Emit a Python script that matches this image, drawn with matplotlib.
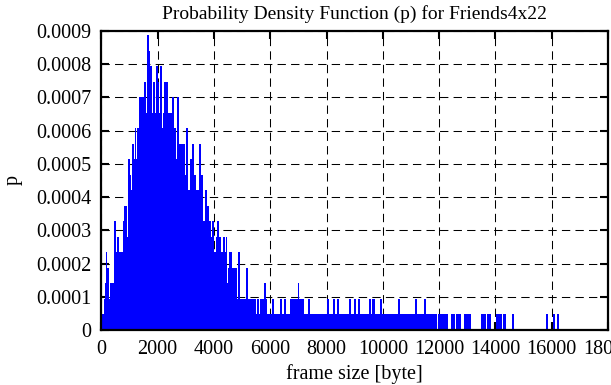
import numpy as np
import matplotlib
matplotlib.use('Agg')
import matplotlib.pyplot as plt

# Histogram of frame sizes.
# Each bin is ~35.5 bytes wide; counts are in units of the smallest p step.
bin_width = 35.52
p_unit = 0.0000467

counts = [
    1, 1, 1, 2, 3, 5, 4, 4, 2, 3, 3, 3, 3, 7, 7, 5, 6, 6, 5, 5,
    5, 5, 7, 8, 8, 8, 6, 11, 11, 10, 9, 12, 12, 11, 13, 11, 13, 13, 15, 15,
    15, 15, 15, 16, 16, 14, 19, 19, 18, 17, 17, 14, 16, 16, 14, 17, 17, 16, 14, 17,
    17, 13, 14, 16, 16, 16, 16, 14, 14, 14, 14, 15, 15, 13, 13, 11, 15, 15, 12, 12,
    12, 12, 12, 12, 10, 13, 13, 9, 9, 11, 11, 12, 12, 10, 10, 9, 9, 9, 12, 12,
    10, 10, 7, 7, 9, 9, 8, 8, 7, 7, 6, 7, 7, 5, 5, 6, 7, 7, 6, 6,
    5, 5, 6, 6, 5, 6, 3, 4, 5, 5, 5, 4, 4, 4, 4, 4, 2, 5, 5, 2,
    2, 2, 2, 2, 2, 4, 4, 2, 2, 2, 2, 2, 2, 2, 2, 1, 2, 2, 1, 2,
    2, 2, 2, 3, 3, 2, 1, 1, 1, 1, 1, 2, 2, 1, 1, 1, 1, 1, 1, 2,
    2, 1, 1, 2, 2, 1, 1, 1, 1, 2, 2, 2, 2, 2, 2, 2, 2, 3, 2, 2,
    2, 2, 2, 1, 1, 1, 1, 2, 2, 1, 1, 1, 1, 1, 1, 1, 1, 1, 1, 1,
    1, 1, 1, 1, 1, 1, 2, 2, 1, 1, 1, 1, 2, 2, 1, 1, 2, 2, 1, 1,
    1, 1, 1, 1, 1, 1, 1, 1, 2, 2, 1, 1, 1, 2, 2, 1, 1, 2, 2, 1,
    1, 1, 1, 1, 1, 1, 1, 1, 2, 2, 1, 2, 2, 2, 1, 1, 1, 1, 1, 2,
    2, 1, 1, 1, 1, 1, 1, 1, 1, 1, 1, 1, 1, 1, 1, 1, 1, 2, 2, 1,
    1, 1, 1, 1, 1, 1, 1, 1, 1, 1, 1, 1, 1, 1, 2, 2, 1, 1, 1, 1,
    1, 1, 1, 2, 2, 1, 1, 1, 1, 1, 1, 1, 1, 1, 1, 1, 0, 1, 1, 1,
    1, 1, 1, 1, 1, 1, 1, 0, 0, 0, 1, 1, 1, 1, 0, 1, 1, 1, 1, 1,
    0, 0, 0, 1, 1, 1, 1, 1, 1, 1, 0, 0, 0, 0, 0, 0, 0, 0, 0, 0,
    1, 1, 1, 1, 1, 0, 1, 1, 1, 1, 0, 0, 0, 0, 0, 1, 1, 1, 1, 1,
    1, 0, 1, 1, 1, 0, 0, 0, 0, 0, 0, 1, 1, 0, 0, 0, 0, 0, 0, 0,
    0, 0, 0, 0, 0, 0, 0, 0, 0, 0, 0, 0, 0, 0, 0, 0, 0, 0, 0, 0,
    0, 0, 0, 0, 0, 1, 1, 0, 0, 0, 0, 0, 1, 1, 0, 0, 1, 1,
]

x_ticks = [0, 2000, 4000, 6000, 8000, 10000, 12000, 14000, 16000, 18000]
y_ticks = [0, 0.0001, 0.0002, 0.0003, 0.0004, 0.0005, 0.0006, 0.0007, 0.0008, 0.0009]
y_labels = ['0', '0.0001', '0.0002', '0.0003', '0.0004', '0.0005',
            '0.0006', '0.0007', '0.0008', '0.0009']

frame_size = np.arange(len(counts)) * bin_width
p = np.array(counts) * p_unit

plt.rcParams['font.family'] = ['Liberation Serif', 'DejaVu Serif']

fig = plt.figure(figsize=(6.11, 3.85), dpi=100)
ax = fig.add_axes([0.1658, 0.1429, 0.8293, 0.7766])

ax.bar(frame_size, p, width=bin_width, align='edge', color='#0000ff',
       linewidth=0, antialiased=False, zorder=1)

ax.set_xlim(0, 18000)
ax.set_ylim(0, 0.0009)
ax.set_xticks(x_ticks)
ax.set_xticklabels([str(t) for t in x_ticks])
ax.set_yticks(y_ticks)
ax.set_yticklabels(y_labels)

ax.grid(True, color='black', linestyle=(0, (8, 5)), linewidth=0.75, zorder=0)
ax.set_axisbelow(True)

for s in ax.spines.values():
    s.set_linewidth(1.6)
    s.set_zorder(3)

ax.tick_params(direction='in', length=6, width=1.5, top=True, right=True,
               labelsize=14.5, pad=7)
ax.tick_params(axis='x', pad=7)

ax.set_title('Probability Density Function (p) for Friends4x22', fontsize=14, pad=9)
ax.set_xlabel('frame size [byte]', fontsize=14.5, labelpad=4)
ax.set_ylabel('p', fontsize=14.5, labelpad=10)

fig.savefig('out.png', dpi=100)
print("saved out.png")
